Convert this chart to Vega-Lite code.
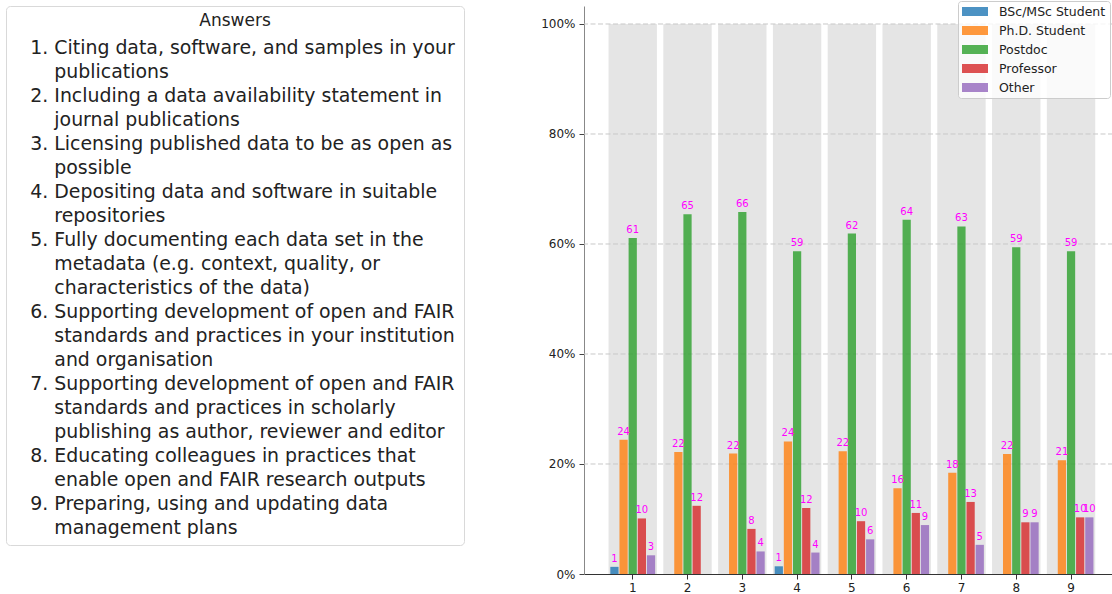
{
  "$schema": "https://vega.github.io/schema/vega-lite/v6.json",
  "padding": {"left": 5, "top": 0, "right": 0, "bottom": 0},
  "autosize": {"type": "pad"},
  "background": "white",
  "bounds": "flush",
  "spacing": 120,
  "config": {"font": "DejaVu Sans"},
  "hconcat": [
    {
      "width": 458,
      "height": 539,
      "view": {"stroke": "#d9d9d9", "cornerRadius": 4, "fill": "white"},
      "data": {"values": [
        {"num": "1.", "line": 1, "text": "Citing data, software, and samples in your"},
        {"num": "", "line": 2, "text": "publications"},
        {"num": "2.", "line": 3, "text": "Including a data availability statement in"},
        {"num": "", "line": 4, "text": "journal publications"},
        {"num": "3.", "line": 5, "text": "Licensing published data to be as open as"},
        {"num": "", "line": 6, "text": "possible"},
        {"num": "4.", "line": 7, "text": "Depositing data and software in suitable"},
        {"num": "", "line": 8, "text": "repositories"},
        {"num": "5.", "line": 9, "text": "Fully documenting each data set in the"},
        {"num": "", "line": 10, "text": "metadata (e.g. context, quality, or"},
        {"num": "", "line": 11, "text": "characteristics of the data)"},
        {"num": "6.", "line": 12, "text": "Supporting development of open and FAIR"},
        {"num": "", "line": 13, "text": "standards and practices in your institution"},
        {"num": "", "line": 14, "text": "and organisation"},
        {"num": "7.", "line": 15, "text": "Supporting development of open and FAIR"},
        {"num": "", "line": 16, "text": "standards and practices in scholarly"},
        {"num": "", "line": 17, "text": "publishing as author, reviewer and editor"},
        {"num": "8.", "line": 18, "text": "Educating colleagues in practices that"},
        {"num": "", "line": 19, "text": "enable open and FAIR research outputs"},
        {"num": "9.", "line": 20, "text": "Preparing, using and updating data"},
        {"num": "", "line": 21, "text": "management plans"}
      ]},
      "layer": [
        {
          "transform": [{"filter": "datum.num != ''"}],
          "mark": {"type": "text", "align": "left", "baseline": "middle", "fontSize": 18.9, "color": "#222"},
          "encoding": {
            "x": {"datum": 0.053, "type": "quantitative", "scale": {"domain": [0, 1], "nice": false, "zero": false}, "axis": null},
            "y": {"field": "line", "type": "quantitative", "scale": {"domain": [-0.75, 21.708], "nice": false, "zero": false, "reverse": true}, "axis": null},
            "text": {"field": "num"}
          }
        },
        {
          "mark": {"type": "text", "align": "left", "baseline": "middle", "fontSize": 18.9, "color": "#222"},
          "encoding": {
            "x": {"datum": 0.1055, "type": "quantitative"},
            "y": {"field": "line", "type": "quantitative"},
            "text": {"field": "text"}
          }
        },
        {
          "data": {"values": [{"label": "Answers"}]},
          "mark": {"type": "text", "align": "center", "baseline": "middle", "fontSize": 17, "color": "#222"},
          "encoding": {
            "x": {"datum": 0.5, "type": "quantitative"},
            "y": {"datum": -0.125, "type": "quantitative"},
            "text": {"field": "label"}
          }
        }
      ]
    },
    {
      "width": 529,
      "height": 568,
      "view": {"stroke": null},
      "data": {"values": [
        {"q": "1", "role": "BSc/MSc Student", "pct": 1.3},
        {"q": "1", "role": "Ph.D. Student", "pct": 24.4},
        {"q": "1", "role": "Postdoc", "pct": 61.1},
        {"q": "1", "role": "Professor", "pct": 10.1},
        {"q": "1", "role": "Other", "pct": 3.4},
        {"q": "2", "role": "Ph.D. Student", "pct": 22.2},
        {"q": "2", "role": "Postdoc", "pct": 65.4},
        {"q": "2", "role": "Professor", "pct": 12.4},
        {"q": "3", "role": "Ph.D. Student", "pct": 21.9},
        {"q": "3", "role": "Postdoc", "pct": 65.8},
        {"q": "3", "role": "Professor", "pct": 8.2},
        {"q": "3", "role": "Other", "pct": 4.1},
        {"q": "4", "role": "BSc/MSc Student", "pct": 1.4},
        {"q": "4", "role": "Ph.D. Student", "pct": 24.1},
        {"q": "4", "role": "Postdoc", "pct": 58.7},
        {"q": "4", "role": "Professor", "pct": 12.0},
        {"q": "4", "role": "Other", "pct": 3.9},
        {"q": "5", "role": "Ph.D. Student", "pct": 22.3},
        {"q": "5", "role": "Postdoc", "pct": 61.9},
        {"q": "5", "role": "Professor", "pct": 9.6},
        {"q": "5", "role": "Other", "pct": 6.3},
        {"q": "6", "role": "Ph.D. Student", "pct": 15.6},
        {"q": "6", "role": "Postdoc", "pct": 64.4},
        {"q": "6", "role": "Professor", "pct": 11.1},
        {"q": "6", "role": "Other", "pct": 8.9},
        {"q": "7", "role": "Ph.D. Student", "pct": 18.4},
        {"q": "7", "role": "Postdoc", "pct": 63.2},
        {"q": "7", "role": "Professor", "pct": 13.1},
        {"q": "7", "role": "Other", "pct": 5.3},
        {"q": "8", "role": "Ph.D. Student", "pct": 21.8},
        {"q": "8", "role": "Postdoc", "pct": 59.4},
        {"q": "8", "role": "Professor", "pct": 9.4},
        {"q": "8", "role": "Other", "pct": 9.4},
        {"q": "9", "role": "Ph.D. Student", "pct": 20.7},
        {"q": "9", "role": "Postdoc", "pct": 58.7},
        {"q": "9", "role": "Professor", "pct": 10.3},
        {"q": "9", "role": "Other", "pct": 10.3}
      ]},
      "layer": [
        {
          "transform": [{"aggregate": [{"op": "count", "as": "n"}], "groupby": ["q"]}],
          "mark": {"type": "bar", "color": "#e5e5e5"},
          "encoding": {
            "x": {"field": "q", "type": "nominal",
              "scale": {"paddingInner": 0.117, "paddingOuter": 0.386, "align": 0.58},
              "axis": {"title": null, "labelAngle": 0, "labelFontSize": 12, "labelColor": "#222", "tickColor": "#333", "tickSize": 5, "domainColor": "#333", "labelPadding": 3}},
            "y": {"datum": 100, "type": "quantitative",
              "scale": {"domain": [0, 103.27], "nice": false},
              "axis": {"title": null, "values": [0, 20, 40, 60, 80, 100], "labelExpr": "datum.value + '%'", "grid": false, "domainColor": "#888", "tickColor": "#444", "tickSize": 5, "labelFontSize": 12, "labelColor": "#222", "labelPadding": 4}}
          }
        },
        {
          "data": {"values": [{"tick": 20}, {"tick": 40}, {"tick": 60}, {"tick": 80}, {"tick": 100}]},
          "mark": {"type": "rule", "color": "#c8c8c8", "strokeDash": [5, 2.5], "strokeWidth": 1},
          "encoding": {"y": {"field": "tick", "type": "quantitative"}}
        },
        {
          "mark": {"type": "bar", "opacity": 0.8},
          "encoding": {
            "x": {"field": "q", "type": "nominal"},
            "xOffset": {"field": "role", "type": "nominal", "scale": {"domain": ["BSc/MSc Student", "Ph.D. Student", "Postdoc", "Professor", "Other"], "paddingInner": 0.1, "paddingOuter": 0.195}},
            "y": {"field": "pct", "type": "quantitative"},
            "color": {"field": "role", "type": "nominal",
              "scale": {"domain": ["BSc/MSc Student", "Ph.D. Student", "Postdoc", "Professor", "Other"], "range": ["#1f77b4", "#ff7f0e", "#2ca02c", "#d62728", "#9467bd"]},
              "legend": {"orient": "none", "legendX": 952, "legendY": -5, "title": null,
                "symbolType": "M-1,-0.69L3,-0.69L3,0.69L-1,0.69Z", "symbolSize": 169, "symbolStrokeWidth": 0, "symbolOpacity": 0.8,
                "labelFontSize": 12.5, "labelColor": "#222", "labelOffset": 24, "rowPadding": 6, "padding": 4,
                "fillColor": "rgba(255,255,255,0.8)", "strokeColor": "#cccccc", "cornerRadius": 3}}
          }
        },
        {
          "mark": {"type": "text", "color": "#ff00ff", "fontSize": 10, "dy": -5, "baseline": "alphabetic"},
          "encoding": {
            "x": {"field": "q", "type": "nominal"},
            "xOffset": {"field": "role", "type": "nominal"},
            "y": {"field": "pct", "type": "quantitative"},
            "text": {"field": "pct", "format": ".0f"}
          }
        }
      ]
    }
  ]
}
